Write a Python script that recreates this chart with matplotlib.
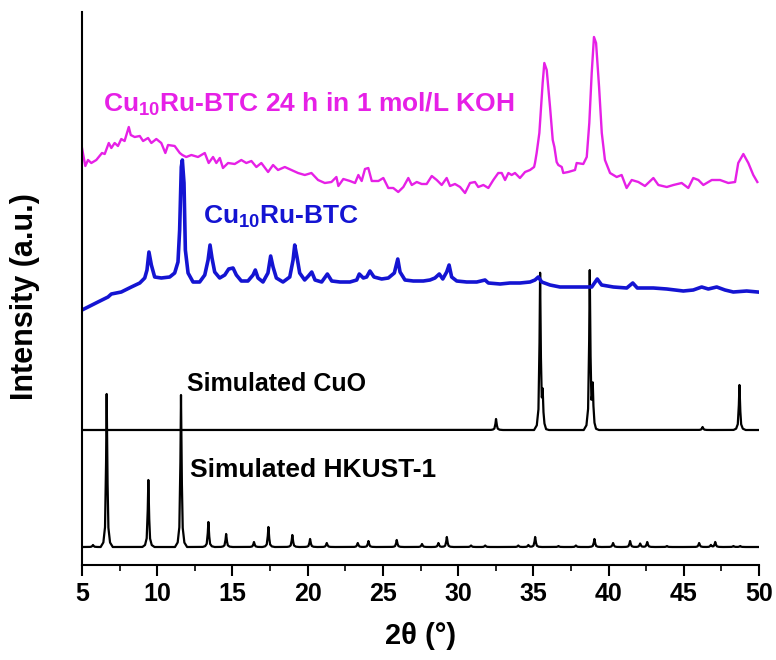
import numpy as np
import matplotlib
matplotlib.use("Agg")
from matplotlib import pyplot as plt

plt.rcParams['font.family'] = ['Liberation Sans', 'DejaVu Sans']
plt.rcParams['mathtext.fontset'] = 'custom'
plt.rcParams['mathtext.bf'] = 'Liberation Sans:bold'
plt.rcParams['mathtext.rm'] = 'Liberation Sans:bold'

koh_2theta = [5.00, 5.22, 5.40, 5.62, 5.95, 6.33, 6.51, 6.78, 6.95, 7.17, 7.39, 7.61, 7.83, 8.11,
              8.24, 8.50, 8.84, 9.06, 9.39, 9.61, 9.94, 10.27, 10.54, 10.72, 11.16, 11.50, 11.67,
              11.93, 12.27, 12.71, 13.16, 13.42, 13.71, 13.93, 14.16, 14.37, 14.71, 15.15, 15.59,
              15.92, 16.26, 16.59, 16.92, 17.37, 17.70, 18.03, 18.48, 18.92, 19.36, 19.81, 20.25,
              20.69, 21.14, 21.58, 21.91, 22.04, 22.37, 22.81, 23.15, 23.37, 23.59, 23.81, 24.03,
              24.26, 24.70, 25.03, 25.36, 25.69, 26.02, 26.36, 26.69, 26.92, 27.25, 27.58, 27.91,
              28.25, 28.58, 28.91, 29.24, 29.46, 29.79, 30.13, 30.46, 30.79, 31.12, 31.34, 31.68,
              32.01, 32.34, 32.67, 32.90, 33.12, 33.34, 33.56, 33.78, 34.11, 34.45, 34.78, 35.05,
              35.11, 35.22, 35.40, 35.62, 35.73, 35.89, 36.11, 36.29, 36.40, 36.55, 36.66, 36.89,
              36.99, 37.32, 37.77, 37.88, 38.32, 38.55, 38.72, 38.88, 39.03, 39.17, 39.37, 39.55,
              39.76, 40.10, 40.54, 40.87, 41.20, 41.54, 41.98, 42.42, 42.98, 43.31, 43.87, 44.31,
              44.86, 45.30, 45.63, 45.97, 46.30, 46.86, 47.41, 47.96, 48.41, 48.62, 48.96, 49.29,
              49.62, 49.89]
koh_int = [417, 399, 405, 402, 405, 412, 411, 422, 417, 422, 419, 426, 424, 438,
           430, 428, 429, 424, 427, 422, 426, 422, 412, 420, 419, 412, 410,
           408, 410, 408, 412, 402, 408, 402, 407, 397, 402, 401, 405,
           402, 404, 398, 402, 393, 400, 395, 398, 395, 392, 390, 392,
           385, 382, 383, 388, 379, 386, 384, 382, 390, 384, 396, 397,
           384, 384, 387, 377, 377, 373, 378, 387, 380, 383, 381, 381,
           389, 385, 380, 387, 379, 381, 378, 372, 382, 383, 378, 380,
           377, 385, 392, 392, 385, 392, 390, 392, 387, 393, 395, 398,
           402, 412, 432, 482, 502, 495, 458, 425, 418, 403, 400, 398,
           392, 393, 395, 402, 401, 408, 442, 492, 528, 522, 478, 432,
           405, 392, 388, 390, 377, 385, 383, 379, 387, 380, 378, 380,
           382, 377, 387, 385, 380, 385, 385, 382, 383, 402, 411, 402,
           390, 383]

btc_2theta = [5.00, 5.40, 6.06, 6.73, 6.95, 7.61, 8.28, 8.84, 9.17, 9.32, 9.45, 9.61, 9.83,
              10.27, 10.83, 11.16, 11.38, 11.49, 11.60, 11.67, 11.78, 11.87, 12.05, 12.38, 12.82,
              13.16, 13.38, 13.51, 13.64, 13.82, 14.15, 14.49, 14.75, 15.04, 15.26, 15.59, 16.03,
              16.37, 16.52, 16.70, 17.03, 17.36, 17.54, 17.70, 17.92, 18.36, 18.81, 19.03, 19.14,
              19.29, 19.47, 19.80, 20.05, 20.27, 20.49, 20.93, 21.31, 21.60, 22.15, 22.81, 23.26,
              23.43, 23.70, 23.92, 24.14, 24.41, 24.92, 25.36, 25.76, 25.99, 26.14, 26.47, 27.02,
              27.69, 28.13, 28.46, 28.75, 28.98, 29.24, 29.40, 29.57, 29.91, 30.57, 31.24, 31.79,
              32.01, 32.79, 33.45, 34.11, 34.78, 35.11, 35.33, 35.56, 36.11, 36.77, 38.10, 38.88,
              39.25, 39.54, 40.32, 41.21, 41.61, 41.91, 42.98, 43.87, 44.97, 45.63, 46.19, 46.63,
              47.19, 47.74, 48.29, 49.18, 49.91]
btc_int = [255, 258, 263, 268, 271, 273, 278, 282, 287, 295, 313, 300, 288,
           287, 288, 292, 303, 335, 398, 405, 382, 315, 292, 283, 283,
           290, 305, 320, 307, 293, 287, 290, 296, 297, 290, 284, 284,
           290, 295, 287, 283, 292, 309, 298, 287, 283, 288, 305, 320,
           308, 292, 285, 289, 293, 285, 283, 291, 284, 283, 283, 285,
           291, 287, 288, 294, 288, 286, 287, 292, 306, 293, 285, 284,
           284, 285, 287, 291, 286, 293, 300, 288, 284, 283, 283, 285,
           282, 281, 282, 282, 283, 285, 288, 283, 280, 278, 278, 278,
           286, 280, 278, 277, 282, 277, 277, 276, 274, 275, 278, 276,
           278, 275, 273, 274, 273]

# simulated CuO: baseline and peak list (2theta, height)
cuo_base = 135
cuo_pos = [32.52, 35.45, 35.62, 38.75, 38.95, 46.25, 48.70]
cuo_h = [11, 155, 30, 158, 40, 3, 45]

# simulated HKUST-1: baseline and peak list (2theta, height)
hk_base = 18
hk_pos = [5.73, 6.64, 9.41, 11.58, 13.40, 14.58, 16.43, 17.39, 18.98, 20.16, 21.27, 23.33,
          24.04, 25.92, 27.60, 28.69, 29.25, 30.86, 31.80, 34.00, 34.67, 35.12, 36.67, 37.83,
          39.06, 40.30, 41.43, 42.10, 42.57, 43.88, 46.02, 46.80, 47.09, 48.30, 48.75]
hk_h = [2, 153, 67, 152, 25, 13, 5, 20, 12, 8, 4, 4,
        6, 7, 3, 4, 10, 1.5, 1.5, 1.5, 2, 10, 1, 1.5,
        8, 4, 6, 3.5, 5, 1, 4, 2, 5, 1, 1]


def stick_pattern(pos, h, base):
    # narrow peak shape, piecewise linear around each reflection
    x = np.linspace(5, 50, 9001)
    off = [-0.4, -0.22, -0.11, -0.045, 0, 0.045, 0.11, 0.22, 0.4]
    frac = [0, 0.03, 0.13, 0.5, 1, 0.5, 0.13, 0.03, 0]
    y = np.full_like(x, base, dtype=float)
    for p, hh in zip(pos, h):
        y += hh * np.interp(x - p, off, frac)
    return x, y


fig = plt.figure(figsize=(7.76, 6.6), dpi=100)
ax = fig.add_axes([82 / 776, 95 / 660, 677 / 776, 553 / 660])

magenta = '#e620e6'
blue = '#1414d2'

x, y = stick_pattern(hk_pos, hk_h, hk_base)
ax.plot(x, y, color='black', lw=1.6)
x, y = stick_pattern(cuo_pos, cuo_h, cuo_base)
ax.plot(x, y, color='black', lw=1.6)
ax.plot(btc_2theta, btc_int, color=blue, lw=2.6)
ax.plot(koh_2theta, koh_int, color=magenta, lw=1.7)

fs = 19
ax.text(6.40, 454, r'Cu$_{\mathbf{10}}$Ru-BTC 24 h in 1 mol/L KOH', color=magenta,
        fontsize=fs, fontweight='bold', va='baseline', ha='left')
ax.text(13.06, 341, r'Cu$_{\mathbf{10}}$Ru-BTC', color=blue,
        fontsize=fs, fontweight='bold', va='baseline', ha='left')
ax.text(11.98, 174, 'Simulated CuO', color='black',
        fontsize=18, fontweight='bold', va='baseline', ha='left')
ax.text(12.18, 88, 'Simulated HKUST-1', color='black',
        fontsize=fs, fontweight='bold', va='baseline', ha='left')

ax.set_xlim(5, 50)
ax.set_ylim(0, 553)
ax.spines['top'].set_visible(False)
ax.spines['right'].set_visible(False)
ax.spines['left'].set_linewidth(1.5)
ax.spines['bottom'].set_linewidth(1.5)
ax.set_yticks([])
ax.set_xticks(np.arange(5, 51, 5))
ax.set_xticks(np.arange(7.5, 50, 5), minor=True)
ax.tick_params(axis='x', which='major', direction='out', length=8, width=1.5, pad=4)
ax.tick_params(axis='x', which='minor', direction='out', length=4, width=1.2)
for lab in ax.get_xticklabels():
    lab.set_family(['Liberation Sans Narrow', 'Liberation Sans'])
    lab.set_fontweight('bold')
    lab.set_fontsize(18)

ax.set_xlabel('2θ (°)', fontsize=21, fontweight='bold', labelpad=12)
ax.set_ylabel('Intensity (a.u.)', fontsize=22, fontweight='bold')
ax.yaxis.set_label_coords(-0.062, 0.485)

fig.savefig('out.png', dpi=100)
